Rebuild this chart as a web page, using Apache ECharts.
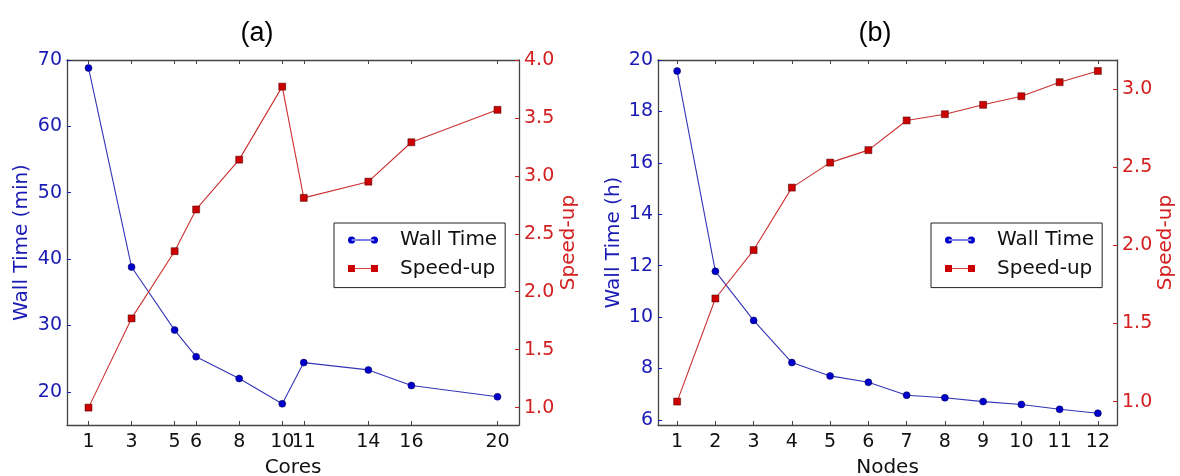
<!DOCTYPE html>
<html>
<head>
<meta charset="utf-8">
<script src="https://cdn.jsdelivr.net/npm/echarts@6/dist/echarts.min.js"></script>
<style>
  html, body { margin: 0; background: #fff; }
  #chart { width: 1180px; height: 476px; }
</style>
</head>
<body>
<div id="chart"></div>
<script>
// panel (a): cores
const cores = [1, 3, 5, 6, 8, 10, 11, 14, 16, 20];
const wallTimeMin = [68.8, 38.8, 29.3, 25.3, 22.0, 18.2, 24.4, 23.3, 20.95, 19.25];
const speedUpA = [1.0, 1.77, 2.35, 2.71, 3.14, 3.77, 2.81, 2.95, 3.29, 3.57];

// panel (b): nodes
const nodes = [1, 2, 3, 4, 5, 6, 7, 8, 9, 10, 11, 12];
const wallTimeH = [19.57, 11.78, 9.87, 8.23, 7.71, 7.46, 6.96, 6.86, 6.71, 6.6, 6.41, 6.26];
const speedUpB = [1.0, 1.66, 1.97, 2.37, 2.53, 2.61, 2.8, 2.84, 2.9, 2.955, 3.045, 3.117];

// tick labels
const wallTicksA = [20, 30, 40, 50, 60, 70];
const speedTicksA = [1.0, 1.5, 2.0, 2.5, 3.0, 3.5, 4.0];
const wallTicksB = [6, 8, 10, 12, 14, 16, 18, 20];
const speedTicksB = [1.0, 1.5, 2.0, 2.5, 3.0];

const BLUE = '#0000cc';
const BLUE_TXT = '#1a1ab4';
const RED = '#cc0000';
const RED_TXT = '#d42020';
const AXIS = '#444';
const FONT = 'DejaVu Sans';

// legend icons drawn like matplotlib: marker at both ends of a short line
const circleIcon = 'path://M0.5,4a3.5,3.5 0 1,0 7,0a3.5,3.5 0 1,0 -7,0Z M22.5,4a3.5,3.5 0 1,0 7,0a3.5,3.5 0 1,0 -7,0Z M4,3.6h22v0.8h-22Z';
const squareIcon = 'path://M0,0.5h7v7h-7Z M23,0.5h7v7h-7Z M7,3.6h16v0.8h-16Z';

function xAxis(grid, min, max, ticks, name, top) {
  return {
    type: 'value', gridIndex: grid, min: min, max: max,
    position: top ? 'top' : 'bottom',
    name: top ? '' : name, nameLocation: 'middle', nameGap: 33,
    nameTextStyle: { color: '#111', fontSize: 20, fontFamily: FONT },
    axisLine: { show: true, onZero: false, lineStyle: { color: AXIS, width: 1.3 } },
    axisTick: { show: true, inside: true, length: 4, customValues: ticks, lineStyle: { color: AXIS } },
    axisLabel: { show: !top, customValues: ticks, margin: 8, color: '#111', fontSize: 19, fontFamily: FONT },
    splitLine: { show: false }
  };
}

function yAxis(grid, min, max, ticks, name, right, color, gap, fmt) {
  return {
    type: 'value', gridIndex: grid, min: min, max: max,
    position: right ? 'right' : 'left',
    name: name, nameLocation: 'middle', nameGap: gap, nameRotate: 90,
    nameTextStyle: { color: color, fontSize: 20, fontFamily: FONT },
    axisLine: { show: true, onZero: false, lineStyle: { color: AXIS, width: 1.3 } },
    axisTick: { show: true, inside: true, length: 4, customValues: ticks, lineStyle: { color: color } },
    axisLabel: { customValues: ticks, margin: 5, color: color, fontSize: 19, fontFamily: FONT, formatter: fmt },
    splitLine: { show: false }
  };
}

function wallSeries(x, y, xi, yi) {
  return {
    name: 'Wall Time', type: 'line', xAxisIndex: xi, yAxisIndex: yi,
    data: x.map((v, i) => [v, y[i]]),
    symbol: 'circle', symbolSize: 7,
    itemStyle: { color: BLUE, borderColor: '#000044', borderWidth: 0.5 },
    lineStyle: { color: '#3434b6', width: 1.1 },
    animation: false
  };
}

function speedSeries(x, y, xi, yi) {
  return {
    name: 'Speed-up', type: 'line', xAxisIndex: xi, yAxisIndex: yi,
    data: x.map((v, i) => [v, y[i]]),
    symbol: 'rect', symbolSize: 7,
    itemStyle: { color: RED, borderColor: '#440000', borderWidth: 0.5 },
    lineStyle: { color: '#cc3030', width: 1.1 },
    animation: false
  };
}

function legend(left) {
  return {
    left: left, top: 223, orient: 'vertical',
    backgroundColor: '#fff', borderColor: '#222', borderWidth: 1, borderRadius: 0,
    padding: [7, 8, 9, 14], itemGap: 8.6, itemWidth: 30, itemHeight: 8,
    itemStyle: { borderWidth: 0 },
    textStyle: { color: '#111', fontSize: 20, fontFamily: FONT, lineHeight: 20, padding: [0, 0, 0, 17] },
    data: [{ name: 'Wall Time', icon: circleIcon }, { name: 'Speed-up', icon: squareIcon }],
    selectedMode: false
  };
}

const fmt1 = v => v.toFixed(1);
const fmt0 = v => String(v);

const chart = echarts.init(document.getElementById('chart'));
chart.setOption({
  backgroundColor: '#fff',
  animation: false,
  title: [
    { text: '(a)', left: 252, top: 15, textAlign: 'center',
      textStyle: { fontFamily: 'Liberation Sans', fontSize: 27, fontWeight: 'normal', color: '#000' } },
    { text: '(b)', left: 870, top: 15, textAlign: 'center',
      textStyle: { fontFamily: 'Liberation Sans', fontSize: 27, fontWeight: 'normal', color: '#000' } }
  ],
  grid: [
    { left: 67, top: 60, width: 452, height: 365, outerBoundsMode: 'none' },
    { left: 658, top: 60, width: 459, height: 365, outerBoundsMode: 'none' }
  ],
  xAxis: [
    xAxis(0, 0, 21, cores, 'Cores', false),
    xAxis(0, 0, 21, cores, '', true),
    xAxis(1, 0.5, 12.5, nodes, 'Nodes', false),
    xAxis(1, 0.5, 12.5, nodes, '', true)
  ],
  yAxis: [
    yAxis(0, 15, 70, wallTicksA, 'Wall Time (min)', false, BLUE_TXT, 35, fmt0),
    yAxis(0, 0.85, 4.0, speedTicksA, 'Speed-up', true, RED_TXT, 40, fmt1),
    yAxis(1, 5.8, 20, wallTicksB, 'Wall Time (h)', false, BLUE_TXT, 34, fmt0),
    yAxis(1, 0.85, 3.187, speedTicksB, 'Speed-up', true, RED_TXT, 39, fmt1)
  ],
  legend: [legend(334), legend(931)],
  series: [
    wallSeries(cores, wallTimeMin, 0, 0),
    speedSeries(cores, speedUpA, 0, 1),
    wallSeries(nodes, wallTimeH, 2, 2),
    speedSeries(nodes, speedUpB, 2, 3)
  ]
});
</script>
</body>
</html>
